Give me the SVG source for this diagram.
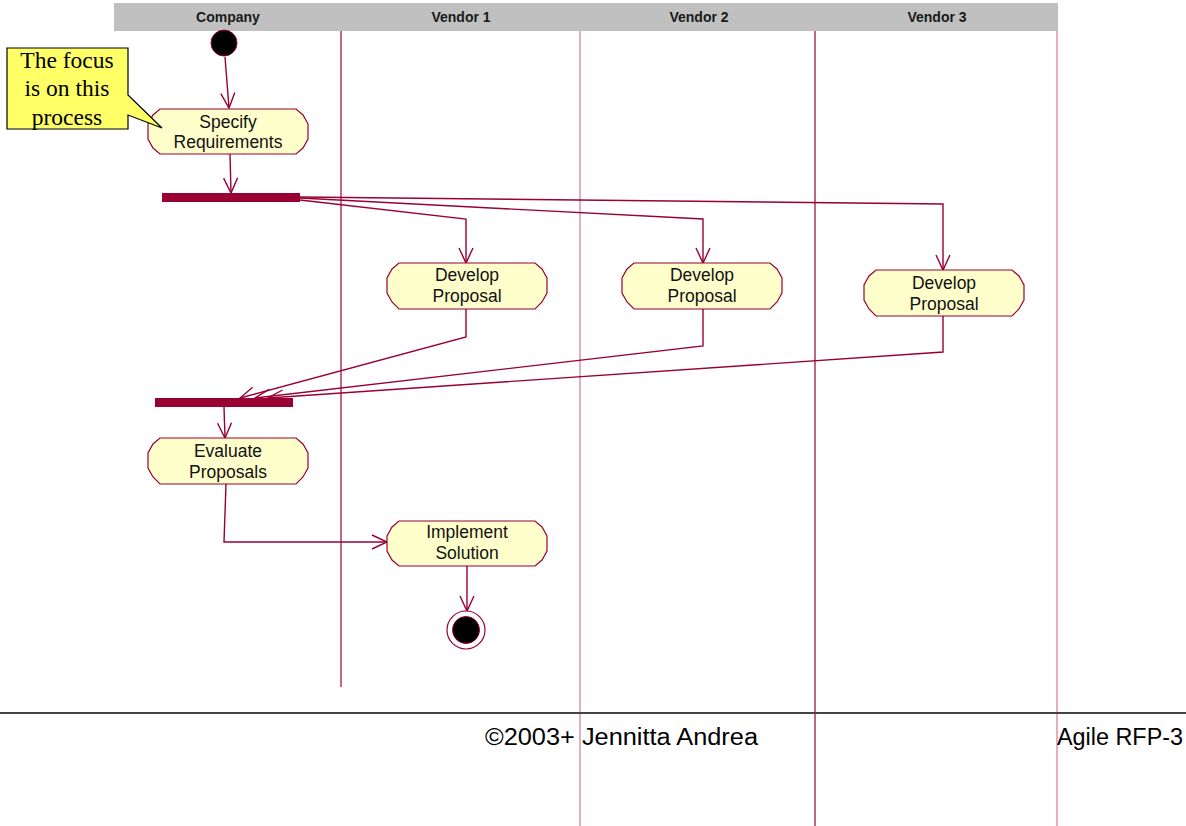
<svg xmlns="http://www.w3.org/2000/svg" width="1186" height="826" viewBox="0 0 1186 826">
<style>
.lane{fill:#c0c0c0;}
.lt{font-family:"Liberation Sans",Arial,sans-serif;font-weight:bold;font-size:14px;fill:#1a1a1a;text-anchor:middle;}
.divd{stroke:#990033;stroke-width:1.2;}
.divl{stroke:#cc5c85;stroke-width:1;}
.act{fill:#ffffcc;stroke:#990033;stroke-width:1.2;}
.at{font-family:"Liberation Sans",Arial,sans-serif;font-size:17.5px;fill:#111;text-anchor:middle;}
.bar{fill:#990033;}
.conn{fill:none;stroke:#990033;stroke-width:1.4;marker-end:url(#arr);}
.note{fill:#ffff66;stroke:#000;stroke-width:1.2;}
.nt{font-family:"Liberation Serif","Times New Roman",serif;font-size:23.5px;fill:#000;text-anchor:middle;}
.ft{font-family:"Liberation Sans",Arial,sans-serif;font-size:23px;fill:#000;}
</style>
<defs>
<marker id="arr" markerUnits="userSpaceOnUse" markerWidth="18" markerHeight="16" viewBox="0 0 18 16" refX="16" refY="8" orient="auto">
<path d="M1,1 L16,8 L1,15" fill="none" stroke="#990033" stroke-width="1.4"/>
</marker>
</defs>
<rect width="1186" height="826" fill="#fff"/>
<g id="swimlanes">
<rect class="lane" x="114" y="3" width="944" height="28"/>
<text class="lt" x="228" y="22">Company</text>
<text class="lt" x="461" y="22">Vendor 1</text>
<text class="lt" x="699" y="22">Vendor 2</text>
<text class="lt" x="937" y="22">Vendor 3</text>
<line class="divd" x1="341" y1="31" x2="341" y2="687"/>
<line class="divl" x1="580" y1="31" x2="580" y2="826"/>
<line class="divd" x1="815" y1="31" x2="815" y2="826"/>
<line class="divl" x1="1057" y1="31" x2="1057" y2="826"/>
</g>
<g id="connectors">
<polyline class="conn" points="225,57 229,108"/>
<polyline class="conn" points="230,154 231,193"/>
<polyline class="conn" points="300,200 466,219 466,263"/>
<polyline class="conn" points="300,198 703,219 703,263"/>
<polyline class="conn" points="300,197 943,204 943,270"/>
<polyline class="conn" points="466,309 466,337 240,398"/>
<polyline class="conn" points="703,309 703,346 255,398"/>
<polyline class="conn" points="943,316 943,352 268,398"/>
<polyline class="conn" points="224,407 225,438"/>
<polyline class="conn" points="226,484 224,542 387,542"/>
<polyline class="conn" points="467,566 467,611"/>
</g>
<g id="start">
<circle cx="224" cy="43" r="13" fill="#000" stroke="#990033" stroke-width="1"/>
</g>
<g id="specify">
<path class="act" d="M160,109 L296,109 L303,115 L308,124 L308,139 L303,148 L296,154 L160,154 L153,148 L148,139 L148,124 L153,115 Z"/>
<text class="at" x="228" y="128">Specify</text>
<text class="at" x="228" y="148">Requirements</text>
</g>
<g id="fork">
<rect class="bar" x="162" y="193" width="138" height="9"/>
</g>
<g id="develop1">
<path class="act" d="M399,263 L535,263 L542,269 L547,278 L547,293 L542,302 L535,309 L399,309 L392,302 L387,293 L387,278 L392,269 Z"/>
<text class="at" x="467" y="281">Develop</text>
<text class="at" x="467" y="302">Proposal</text>
</g>
<g id="develop2">
<path class="act" d="M634,263 L770,263 L777,269 L782,278 L782,293 L777,302 L770,309 L634,309 L627,302 L622,293 L622,278 L627,269 Z"/>
<text class="at" x="702" y="281">Develop</text>
<text class="at" x="702" y="302">Proposal</text>
</g>
<g id="develop3">
<path class="act" d="M876,270 L1012,270 L1019,276 L1024,285 L1024,300 L1019,309 L1012,316 L876,316 L869,309 L864,300 L864,285 L869,276 Z"/>
<text class="at" x="944" y="289">Develop</text>
<text class="at" x="944" y="310">Proposal</text>
</g>
<g id="join">
<rect class="bar" x="155" y="398" width="138" height="9"/>
</g>
<g id="evaluate">
<path class="act" d="M160,438 L296,438 L303,444 L308,453 L308,468 L303,477 L296,484 L160,484 L153,477 L148,468 L148,453 L153,444 Z"/>
<text class="at" x="228" y="457">Evaluate</text>
<text class="at" x="228" y="478">Proposals</text>
</g>
<g id="implement">
<path class="act" d="M399,521 L535,521 L542,527 L547,536 L547,551 L542,560 L535,566 L399,566 L392,560 L387,551 L387,536 L392,527 Z"/>
<text class="at" x="467" y="538">Implement</text>
<text class="at" x="467" y="559">Solution</text>
</g>
<g id="end">
<circle cx="466" cy="630" r="19" fill="#fff" stroke="#990033" stroke-width="1.2"/>
<circle cx="466" cy="630" r="13.5" fill="#000" stroke="#990033" stroke-width="1"/>
</g>
<g id="note">
<path class="note" d="M7,48 L128,48 L128,95 L162,128 L128,115 L128,129 L7,129 Z"/>
<text class="nt" x="67" y="68">The focus</text>
<text class="nt" x="67" y="96">is on this</text>
<text class="nt" x="67" y="125">process</text>
</g>
<g id="footer">
<line x1="0" y1="713" x2="1186" y2="713" stroke="#444" stroke-width="2"/>
<text class="ft" x="485" y="745" textLength="273" lengthAdjust="spacingAndGlyphs">©2003+ Jennitta Andrea</text>
<text class="ft" x="1057" y="745" textLength="126" lengthAdjust="spacingAndGlyphs">Agile RFP-3</text>
</g>
</svg>
